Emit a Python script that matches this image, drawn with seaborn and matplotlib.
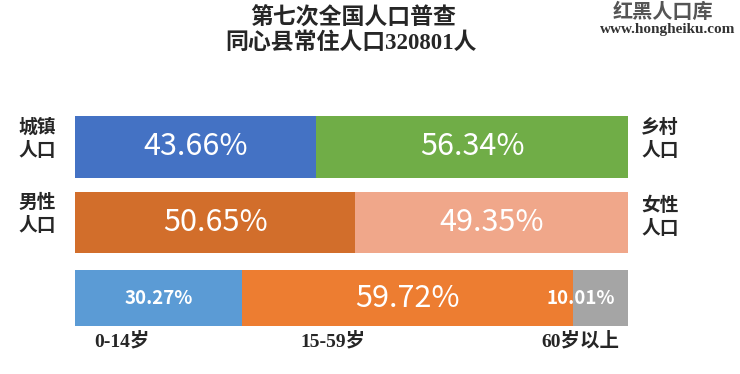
import matplotlib
matplotlib.use("Agg")
import matplotlib.pyplot as plt
import seaborn as sns
import numpy as np

# ---- data ----
rows = ["城乡", "性别", "年龄"]
urban_rural = [43.66, 56.34]
male_female = [50.65, 49.35]
age_groups = [30.27, 59.72, 10.01]

urban_colors = ["#4472C4", "#70AD47"]
sex_colors = ["#D26E2B", "#F0A78A"]
age_colors = ["#5B9BD5", "#ED7D31", "#A5A5A5"]

left_labels = ["城镇\n人口", "男性\n人口"]
right_labels = ["乡村\n人口", "女性\n人口"]
age_names = ["0-14岁", "15-59岁", "60岁以上"]

title_1 = "第七次全国人口普查"
title_2 = "同心县常住人口320801人"

sns.set_style("white")
plt.rcParams["font.family"] = ["Noto Sans CJK SC", "DejaVu Sans"]
serif = ["Liberation Serif", "Noto Sans CJK SC"]

fig = plt.figure(figsize=(7.4, 3.74), dpi=100)
ax = fig.add_axes([0.1014, 0.1283, 0.7473, 0.5615])

series = [(urban_rural, urban_colors, 0.82),
          (male_female, sex_colors, 0.82),
          (age_groups, age_colors, 0.74)]

# stacked bars: draw cumulative totals from the longest down
for row, (vals, cols, w) in zip(rows, series):
    cum = np.cumsum(vals)
    for k in range(len(vals) - 1, -1, -1):
        sns.barplot(x=[cum[k]], y=[row], order=rows, color=cols[k],
                    width=w, orient="h", saturation=1, linewidth=0, ax=ax)

ax.set_xlim(0, 100)
ax.set_ylim(2.37, -0.41)
ax.axis("off")

# segment labels
for i, (vals, cols, w) in enumerate(series):
    cum = np.cumsum(vals)
    starts = cum - np.array(vals)
    for k, v in enumerate(vals):
        small = i == 2 and k != 1
        xc = starts[k] + v / 2
        if i == 2 and k == 2:
            xc = starts[k] + v / 2 - 3.6
        ax.text(xc, i, f"{v:.2f}%", color="white", ha="center", va="center",
                fontsize=13.5 if small else 22, fontweight="bold" if small else "normal")

# side labels
for lab, yc in zip(left_labels, [139, 214]):
    fig.text(37 / 740, 1 - yc / 374, lab, ha="center", va="center",
             fontsize=13.5, fontweight="bold", linespacing=1.25)
for lab, yc in zip(right_labels, [139, 217]):
    fig.text(660 / 740, 1 - yc / 374, lab, ha="center", va="center",
             fontsize=13.5, fontweight="bold", linespacing=1.25)

for lab, xc in zip(age_names, [122, 333, 580]):
    fig.text(xc / 740, 1 - 341 / 374, lab, ha="center", va="center",
             fontsize=14, fontweight="bold", family=serif)

# title
fig.text(353 / 740, 1 - 19 / 374, title_1, ha="center", va="center",
         fontsize=16.5, fontweight="bold", family=serif)
fig.text(351 / 740, 1 - 43 / 374, title_2, ha="center", va="center",
         fontsize=16.5, fontweight="bold", family=serif)

# watermark
fig.text(663 / 740, 1 - 11 / 374, "红黑人口库", ha="center", va="center",
         fontsize=14.5, fontweight="bold", color="#555555")
fig.text(668 / 740, 1 - 29 / 374, "www.hongheiku.com", ha="center", va="center",
         fontsize=11, fontweight="bold", color="#333333", family=serif)

fig.savefig("out.png", dpi=100)
